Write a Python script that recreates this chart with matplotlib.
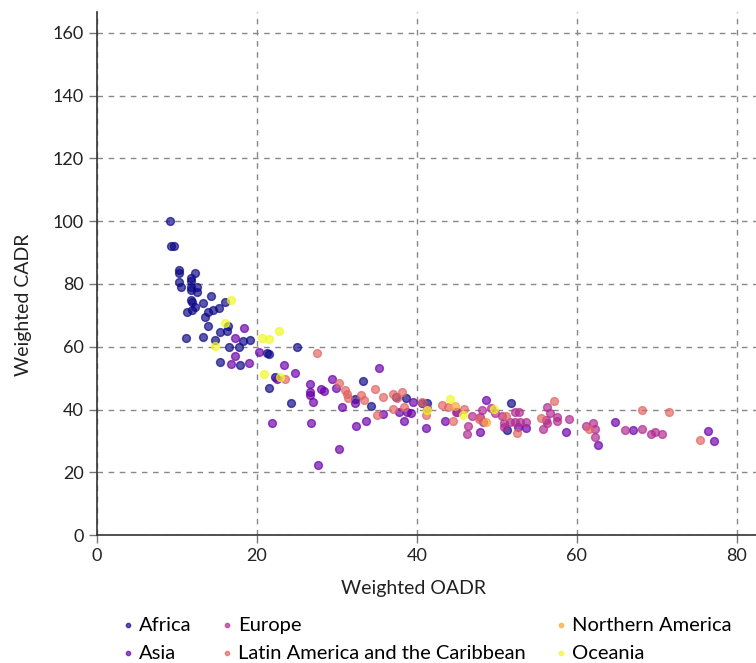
"""Weighted CADR vs weighted OADR by region (scatter)."""

import matplotlib

matplotlib.use("Agg")
import matplotlib.pyplot as plt

plt.rcParams["font.family"] = ["Lato", "DejaVu Sans"]

REGIONS = ["Africa", "Asia", "Europe", "Latin America and the Caribbean",
           "Northern America", "Oceania"]
COLORS = ["#0d0887", "#6a00a8", "#b12a90", "#e16462", "#fca636", "#f0f921"]

africa_oadr = [9.1, 9.3, 9.6, 10.2, 10.25, 12.3, 10.25, 10.45, 11.75, 11.8, 11.7, 11.7,
               12.45, 12.45, 11.75, 11.9, 13.2, 14.3, 16.0, 11.2, 11.9, 12.25, 13.5, 13.9,
               14.5, 15.25, 13.9, 16.4, 15.4, 16.2, 11.1, 13.2, 14.75, 16.5, 17.8, 15.4,
               17.9, 18.3, 19.1, 21.3, 21.5, 25.0, 22.25, 21.5, 24.3, 33.2, 32.3, 34.3,
               37.4, 38.6, 40.7, 41.3, 51.8, 51.3]
africa_cadr = [100.0, 92.2, 92.0, 84.5, 83.4, 83.6, 80.7, 79.1, 81.8, 81.0, 79.0, 78.1,
               79.1, 77.6, 74.9, 74.4, 74.0, 76.2, 74.4, 71.2, 71.7, 72.8, 69.6, 71.2,
               71.7, 72.3, 66.7, 66.6, 64.8, 65.1, 62.7, 63.2, 62.3, 60.0, 60.0, 55.2,
               54.2, 61.9, 62.3, 58.1, 57.7, 59.8, 50.5, 46.8, 42.2, 49.1, 43.2, 41.2,
               44.1, 43.6, 42.0, 42.0, 42.0, 33.5]

asia_oadr = [18.4, 17.3, 20.2, 17.25, 16.8, 19.0, 23.4, 22.5, 24.75, 26.6, 26.6, 26.6,
             27.95, 28.4, 27.0, 21.9, 26.8, 29.4, 29.9, 30.6, 35.3, 32.3, 33.6, 32.4,
             30.2, 27.6, 35.8, 37.7, 39.5, 38.8, 39.3, 38.4, 41.1, 43.5, 45.0, 47.9,
             48.6, 52.7, 53.6, 58.7, 62.6, 64.8, 67.0, 76.4, 77.2]
asia_cadr = [65.9, 62.7, 58.4, 57.1, 54.4, 54.7, 54.2, 49.8, 51.7, 48.0, 45.7, 44.6,
             46.5, 46.0, 42.5, 35.6, 35.8, 49.8, 47.0, 40.9, 53.3, 42.2, 36.4, 34.7,
             27.5, 22.4, 38.6, 39.3, 42.5, 39.1, 38.8, 36.5, 34.0, 36.4, 39.3, 32.9,
             43.0, 34.5, 34.0, 32.9, 28.7, 35.9, 33.5, 33.3, 30.1]

europe_oadr = [41.3, 44.95, 46.9, 46.4, 46.3, 48.1, 47.9, 48.3, 49.3, 49.75, 50.6, 52.25,
               52.8, 51.6, 52.25, 52.9, 53.6, 50.9, 50.9, 56.3, 56.6, 57.5, 56.1, 56.3,
               55.8, 57.5, 59.0, 61.1, 62.0, 62.3, 62.3, 66.0, 68.2, 69.3, 69.75, 70.7]
europe_cadr = [40.5, 39.1, 37.9, 34.8, 32.2, 39.8, 37.7, 36.1, 40.4, 39.0, 37.9, 39.3,
               39.1, 36.1, 36.1, 36.1, 36.1, 34.3, 35.6, 40.7, 38.8, 37.5, 36.7, 35.6,
               33.8, 36.4, 37.0, 34.8, 35.6, 33.8, 31.1, 33.5, 33.8, 32.2, 32.7, 32.2]

latam_oadr = [27.5, 23.5, 30.3, 31.0, 31.2, 31.4, 33.0, 33.4, 34.75, 35.8, 37.0, 37.5,
              38.1, 38.4, 37.0, 35.0, 40.6, 41.1, 43.2, 43.9, 45.9, 44.5, 47.8, 51.2,
              52.5, 57.2, 55.5, 61.5, 68.1, 71.5, 75.4]
latam_cadr = [57.9, 49.7, 48.5, 46.2, 44.9, 43.6, 44.6, 43.0, 46.4, 43.9, 44.8, 43.6,
              45.5, 40.9, 40.2, 38.2, 42.3, 38.3, 41.4, 40.9, 40.1, 36.4, 36.9, 37.9,
              32.6, 42.8, 37.2, 33.8, 39.9, 39.2, 30.3]

namerica_oadr = [44.8, 48.6]
namerica_cadr = [41.2, 35.9]

oceania_oadr = [16.7, 16.0, 14.8, 20.6, 21.5, 22.7, 20.9, 22.9, 44.1, 45.8, 41.3, 49.6]
oceania_cadr = [74.9, 67.7, 60.2, 62.7, 62.5, 65.0, 51.4, 50.3, 43.2, 38.2, 39.8, 40.3]

series = [
    (africa_oadr, africa_cadr),
    (asia_oadr, asia_cadr),
    (europe_oadr, europe_cadr),
    (latam_oadr, latam_cadr),
    (namerica_oadr, namerica_cadr),
    (oceania_oadr, oceania_cadr),
]

fig = plt.figure(figsize=(7.56, 6.63), dpi=100)
ax = fig.add_axes([0.1283, 0.193, 0.8717, 0.789])

for name, color, (xs, ys) in zip(REGIONS, COLORS, series):
    ax.scatter(xs, ys, s=32, color=color, alpha=0.68, linewidths=1.0,
               edgecolors=color, label=name, zorder=3)

ax.set_xlim(0, 82.4)
ax.set_ylim(0, 166.7)
ax.set_xticks([0, 20, 40, 60, 80])
ax.set_yticks(range(0, 161, 20))
ax.grid(True, linestyle=(0, (4, 4)), color="#888888", linewidth=1.0, zorder=0)
for side in ("top", "right"):
    ax.spines[side].set_visible(False)
for side in ("left", "bottom"):
    ax.spines[side].set_color("#333333")
    ax.spines[side].set_linewidth(1.2)
ax.tick_params(axis="both", colors="#777777", labelcolor="#222222", labelsize=13,
               length=6, width=1)
ax.set_xlabel("Weighted OADR", fontsize=14, color="#222222")
ax.set_ylabel("Weighted CADR", fontsize=14, color="#222222")
ax.xaxis.set_label_coords(0.48, -0.085)
ax.yaxis.set_label_coords(-0.099, 0.44)

fig.legend(loc="center left", bbox_to_anchor=(0.163, 0.036), ncol=3, frameon=False,
           fontsize=14.5, handlelength=0.45, handletextpad=0.35, columnspacing=1.5,
           markerscale=0.55, labelspacing=0.55, borderaxespad=0, borderpad=0)

fig.savefig("out.png", dpi=100)
plt.close(fig)
